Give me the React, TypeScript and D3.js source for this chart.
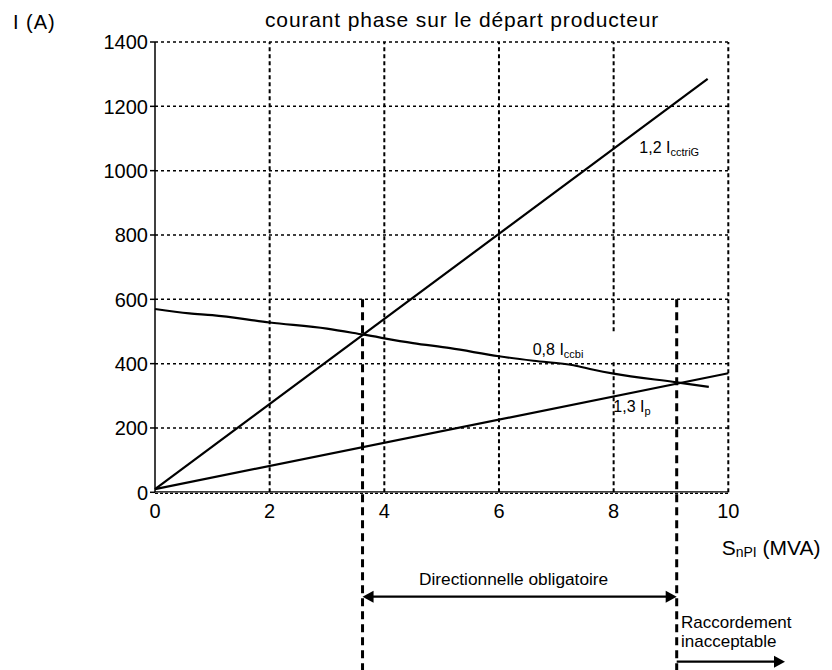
import React from "react";
import * as d3 from "d3";

const xTicks = [0, 2, 4, 6, 8, 10];
const yTicks = [0, 200, 400, 600, 800, 1000, 1200, 1400];

const iccTriX = [0, 9.64];
const iccTriY = [10, 1285];

const ipX = [0, 10];
const ipY = [10, 370];

const iccbiX = [0, 0.6, 1, 2, 3, 3.64, 4.5, 5.15, 6, 6.6, 7.3, 7.65, 8, 9.1, 9.66];
const iccbiY = [570, 556, 551, 528, 509, 490, 464, 448, 423, 409, 395, 381, 369, 342, 328];

const boundaries = [3.62, 9.1];
const boundaryTop = 600;

const W = 832;
const H = 670;
const FONT = "'Liberation Sans', Arial, Helvetica, sans-serif";

export default function App() {
  const x = d3.scaleLinear().domain([0, 10]).range([155, 728.3]);
  const y = d3.scaleLinear().domain([0, 1400]).range([492.3, 42]);

  const line = d3
    .line<[number, number]>()
    .x((d) => x(d[0]))
    .y((d) => y(d[1]));

  const zip = (xs: number[], ys: number[]) => xs.map((v, i) => [v, ys[i]] as [number, number]);

  const x0 = x(0), x10 = x(10), y0 = y(0), y1400 = y(1400);
  const [bL, bR] = boundaries.map((b) => x(b));
  const arrowY = 596.7;
  const arrow2Y = 661.7;

  const head = (tipX: number, tipY: number, dir: number) => {
    const L = 11, hw = 6;
    return `M${tipX},${tipY} L${tipX - dir * L},${tipY - hw} L${tipX - dir * L},${tipY + hw} Z`;
  };

  return (
    <div style={{ position: "absolute", left: 0, top: 0 }}>
      <svg width={W} height={H} viewBox={`0 0 ${W} ${H}`} style={{ display: "block", background: "#fff" }} fontFamily={FONT}>
        <rect x={0} y={0} width={W} height={H} fill="#fff" />
        {/* horizontal grid */}
        {yTicks.filter((t) => t > 0).map((t) => (
          <line key={"h" + t} x1={x0} x2={x10} y1={y(t)} y2={y(t)} stroke="#000" strokeWidth={1.5} strokeDasharray="3,3" />
        ))}
        {/* vertical grid */}
        {xTicks.filter((t) => t > 0).map((t) => (
          <line key={"v" + t} x1={x(t)} x2={x(t)} y1={y0} y2={y1400} stroke="#000" strokeWidth={2} strokeDasharray="4,3" />
        ))}
        {/* gap box near x=8 */}
        <rect x={x(8) - 4} y={332} width={8} height={29} fill="#fff" />
        {/* axes */}
        <line x1={x0} x2={x0} y1={y0} y2={y1400} stroke="#000" strokeWidth={1.5} />
        <line x1={x0} x2={x10} y1={y0 - 0.5} y2={y0 - 0.5} stroke="#000" strokeWidth={1.2} />
        <line x1={x0} x2={x10} y1={y0 + 1} y2={y0 + 1} stroke="#000" strokeWidth={1.2} strokeDasharray="3,2" />
        {yTicks.map((t) => (
          <line key={"yt" + t} x1={x0 - 5} x2={x0} y1={y(t)} y2={y(t)} stroke="#000" strokeWidth={1.5} />
        ))}
        {/* tick labels */}
        {yTicks.map((t) => (
          <text key={"yl" + t} x={148} y={y(t)} dy="0.36em" textAnchor="end" fontSize={20} fill="#000">
            {t}
          </text>
        ))}
        {xTicks.map((t) => (
          <text key={"xl" + t} x={x(t)} y={518} textAnchor="middle" fontSize={20} fill="#000">
            {t}
          </text>
        ))}
        {/* data lines */}
        <path d={line(zip(iccTriX, iccTriY)) || ""} fill="none" stroke="#000" strokeWidth={2.2} />
        <path d={line(zip(ipX, ipY)) || ""} fill="none" stroke="#000" strokeWidth={2.2} />
        <path d={d3.line<[number, number]>().x((d) => x(d[0])).y((d) => y(d[1])).curve(d3.curveMonotoneX)(zip(iccbiX, iccbiY)) || ""} fill="none" stroke="#000" strokeWidth={2.2} />

        {/* boundary dashed lines */}
        {[bL, bR].map((bx, i) => (
          <line key={"b" + i} x1={bx} x2={bx} y1={y(boundaryTop)} y2={H} stroke="#000" strokeWidth={3} strokeDasharray="8,5" />
        ))}

        {/* titles */}
        <text x={265} y={26.7} fontSize={21} letterSpacing={0.85} fill="#000">courant phase sur le départ producteur</text>
        <text x={13} y={29} fontSize={20} letterSpacing={1} fill="#000">I (A)</text>
        <text x={721.7} y={555} fontSize={21} fill="#000">
          S<tspan fontSize={14} dy={2}>nPI</tspan>
          <tspan dy={-2}> (MVA)</tspan>
        </text>

        {/* line labels */}
        <text x={639.3} y={153.3} fontSize={16} fill="#000">
          1,2 I<tspan fontSize={11} dy={3}>cctriG</tspan>
        </text>
        <text x={532.7} y={355} fontSize={16} fill="#000">
          0,8 I<tspan fontSize={11} dy={3}>ccbi</tspan>
        </text>
        <text x={613.3} y={411.7} fontSize={16} fill="#000">
          1,3 I<tspan fontSize={11} dy={3}>p</tspan>
        </text>

        {/* arrows */}
        <line x1={bL + 10} x2={bR - 10} y1={arrowY} y2={arrowY} stroke="#000" strokeWidth={2.2} />
        <path d={head(bL, arrowY, -1)} fill="#000" />
        <path d={head(bR, arrowY, 1)} fill="#000" />
        <text x={(bL + bR) / 2 - 6} y={585} textAnchor="middle" fontSize={17.3} fill="#000">Directionnelle obligatoire</text>

        <line x1={bR} x2={776} y1={arrow2Y} y2={arrow2Y} stroke="#000" strokeWidth={2.2} />
        <path d={head(785, arrow2Y, 1)} fill="#000" />
        <text x={681} y={628.3} fontSize={17} fill="#000">Raccordement</text>
        <text x={681} y={646.7} fontSize={17} fill="#000">inacceptable</text>
      </svg>
    </div>
  );
}
